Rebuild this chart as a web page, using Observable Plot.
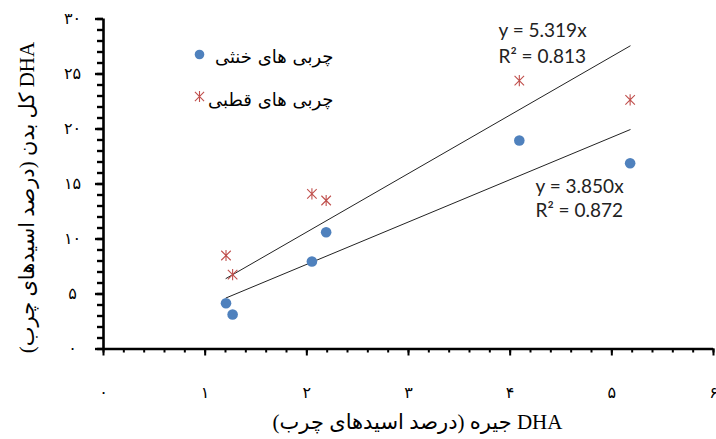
<!DOCTYPE html>
<html><head><meta charset="utf-8">
<script src="https://cdn.jsdelivr.net/npm/d3@7"></script>
<script src="https://cdn.jsdelivr.net/npm/@observablehq/plot@0.6"></script>
<style>body{margin:0;background:#fff} svg{display:block}</style>
</head><body><div id="chart"></div>
<script>
// --- data ---
const seriesNames = ["چربی های خنثی", "چربی های قطبی"];
const neutralX = [1.205, 1.27, 2.05, 2.19, 4.09, 5.18];
const neutralY = [4.16, 3.14, 7.95, 10.62, 18.95, 16.89];
const polarX = [1.205, 1.27, 2.05, 2.19, 4.09, 5.18];
const polarY = [8.5, 6.77, 14.1, 13.5, 24.4, 22.65];
const polarSlope = 5.319, polarR2 = "0.813";
const neutralSlope = 3.850, neutralR2 = "0.872";
const xTicks = [0, 1, 2, 3, 4, 5, 6];
const xTickLabels = ["۰", "۱", "۲", "۳", "۴", "۵", "۶"];
const yTicks = [0, 5, 10, 15, 20, 25, 30];
const yTickLabels = ["۰", "۵", "۱۰", "۱۵", "۲۰", "۲۵", "۳۰"];
const xMinorTicks = d3.range(0, 6.001, 0.2);
const yMinorTicks = d3.range(0, 30.001, 1);
// logical order arranged so that DHA sits at the right end (RTL reading)
const xLabel = "جیره (درصد اسیدهای چرب) DHA";
const yLabel = "کل بدن (درصد اسیدهای چرب) DHA";

const neutral = neutralX.map((x, i) => ({x, y: neutralY[i]}));
const polar = polarX.map((x, i) => ({x, y: polarY[i]}));
const trend = (xs, k) => [d3.min(xs), d3.max(xs)].map(x => ({x, y: k * x}));

// Excel-like star marker: X plus a vertical bar
const star = {
  draw(ctx, size) {
    const r = Math.sqrt(size / Math.PI);
    const d = r * 0.85;
    ctx.moveTo(0, -r); ctx.lineTo(0, r);
    ctx.moveTo(-d, -d); ctx.lineTo(d, d);
    ctx.moveTo(-d, d); ctx.lineTo(d, -d);
  }
};

const blue = "#4f81bd", red = "#c0504d";
const serif = "Liberation Serif, DejaVu Serif, DejaVu Sans, serif";
const sans = "DejaVu Sans, sans-serif";
const eqFont = "Lato, Carlito, sans-serif";

const chart = Plot.plot({
  width: 716, height: 439,
  marginLeft: 103, marginRight: 3, marginTop: 18.5, marginBottom: 90.5,
  x: {domain: [0, 6], label: null},
  y: {domain: [0, 30], label: null},
  style: {background: "#fff"},
  marks: [
    // ticks
    Plot.axisX({ticks: xMinorTicks, tickSize: 4, strokeWidth: 2, text: null, label: null}),
    Plot.axisX({ticks: xTicks, tickSize: 7, strokeWidth: 2, text: null, label: null}),
    Plot.axisY({ticks: yMinorTicks, tickSize: 6, strokeWidth: 2.4, text: null, label: null}),
    Plot.axisY({ticks: yTicks, tickSize: 8, strokeWidth: 2.4, text: null, label: null}),
    Plot.axisX({ticks: xTicks, tickSize: 0, tickPadding: 0, dy: 43.5, lineAnchor: "middle",
      tickFormat: d => xTickLabels[xTicks.indexOf(d)], fontSize: 16, fontFamily: serif, fill: "#000", label: null}),
    Plot.axisY({ticks: yTicks, tickSize: 0, tickPadding: 0, dx: -31, textAnchor: "middle",
      tickFormat: d => yTickLabels[yTicks.indexOf(d)], fontSize: 16, fontFamily: serif, fill: "#000", label: null}),
    // axis lines
    Plot.ruleY([0], {stroke: "#000", strokeWidth: 2.6}),
    Plot.ruleX([0], {stroke: "#000", strokeWidth: 2.6, y1: 0, y2: 30}),
    // trend lines
    Plot.line(trend(polarX, polarSlope), {x: "x", y: "y", stroke: "#222", strokeWidth: 1}),
    Plot.line(trend(neutralX, neutralSlope), {x: "x", y: "y", stroke: "#222", strokeWidth: 1}),
    // points
    Plot.dot(neutral, {x: "x", y: "y", r: 5.3, fill: blue, stroke: "none"}),
    Plot.dot(polar, {x: "x", y: "y", r: 5.6, symbol: star, fill: "none", stroke: red, strokeWidth: 1.1}),
    // equations
    Plot.text([`y = ${polarSlope.toFixed(3)}x`], {frameAnchor: "top-left", dx: 395, dy: 12, textAnchor: "start", lineAnchor: "middle", fontSize: 19, fontFamily: eqFont, fill: "#222"}),
    Plot.text([`R² = ${polarR2}`], {frameAnchor: "top-left", dx: 395, dy: 38, textAnchor: "start", lineAnchor: "middle", fontSize: 19, fontFamily: eqFont, fill: "#222"}),
    Plot.text([`y = ${neutralSlope.toFixed(3)}x`], {frameAnchor: "top-left", dx: 432, dy: 168, textAnchor: "start", lineAnchor: "middle", fontSize: 19, fontFamily: eqFont, fill: "#222"}),
    Plot.text([`R² = ${neutralR2}`], {frameAnchor: "top-left", dx: 432, dy: 192, textAnchor: "start", lineAnchor: "middle", fontSize: 19, fontFamily: eqFont, fill: "#222"}),
    // legend
    Plot.dot([0], {frameAnchor: "top-left", dx: 96, dy: 35.5, r: 4.8, fill: blue, stroke: "none"}),
    Plot.dot([0], {frameAnchor: "top-left", dx: 96, dy: 77.5, r: 5.4, symbol: star, fill: "none", stroke: red, strokeWidth: 1.1}),
    Plot.text([seriesNames[0]], {frameAnchor: "top-left", dx: 230, dy: 38, textAnchor: "end", lineAnchor: "middle", fontSize: 18, fontFamily: sans, fill: "#000"}),
    Plot.text([seriesNames[1]], {frameAnchor: "top-left", dx: 230, dy: 81, textAnchor: "end", lineAnchor: "middle", fontSize: 18, fontFamily: sans, fill: "#000"}),
    // axis titles
    Plot.text([xLabel], {frameAnchor: "bottom", dx: 9, dy: 73.5, textAnchor: "middle", lineAnchor: "middle", fontSize: 21, fontFamily: serif, fill: "#000"}),
    Plot.text([yLabel], {frameAnchor: "left", dx: -76, dy: 13.5, rotate: -90, textAnchor: "middle", lineAnchor: "middle", fontSize: 21, fontFamily: serif, fill: "#000"})
  ]
});
document.getElementById("chart").append(chart);
</script>
</body></html>
